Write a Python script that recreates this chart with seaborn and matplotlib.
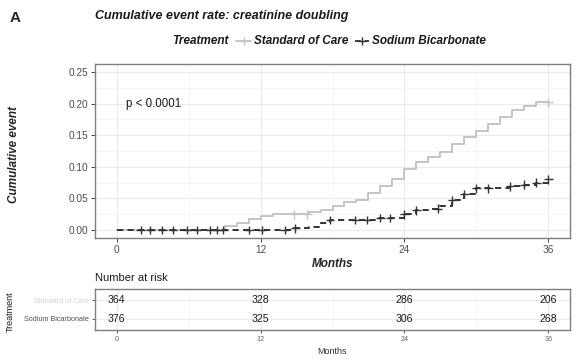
import numpy as np
import pandas as pd
import matplotlib
matplotlib.use("Agg")
import matplotlib.pyplot as plt
from matplotlib.lines import Line2D
import seaborn as sns

# ---------------- data ----------------
groups = ["Standard of Care", "Sodium Bicarbonate"]

soc_time = [0, 9, 10, 11, 12, 13, 16, 17, 18, 19, 20, 21, 22, 23, 24, 25, 26,
            27, 28, 29, 30, 31, 32, 33, 34, 35, 36]
soc_cum = [0.0, 0.006, 0.0115, 0.017, 0.022, 0.025, 0.028, 0.031, 0.038, 0.044,
           0.048, 0.058, 0.069, 0.081, 0.097, 0.108, 0.116, 0.124, 0.136, 0.147,
           0.157, 0.168, 0.179, 0.190, 0.196, 0.202, 0.202]

sb_time = [0, 14.8, 16, 17, 17.8, 21.9, 24, 25, 26, 27, 28, 29, 30, 32.8,
           33.8, 35, 36]
sb_cum = [0.0, 0.003, 0.005, 0.011, 0.016, 0.019, 0.025, 0.031, 0.034, 0.038,
          0.047, 0.057, 0.066, 0.069, 0.072, 0.075, 0.080]

soc_censor = [14.8, 15.9, 36]
sb_censor = [2.0, 2.8, 3.8, 4.7, 5.9, 6.7, 7.8, 8.4, 8.9, 11.0, 12.1, 14.0,
             14.9, 17.8, 19.9, 20.9, 22.0, 22.8, 24.0, 25.0, 26.8, 28.0, 29.0,
             30.0, 31.0, 32.8, 34.0, 35.0, 36.0]

risk_times = [0, 12, 24, 36]
risk_soc = [364, 328, 286, 206]
risk_sb = [376, 325, 306, 268]

x_ticks = [0, 12, 24, 36]
y_ticks = [0.00, 0.05, 0.10, 0.15, 0.20, 0.25]

# ---------------- frames ----------------
curve = pd.concat([
    pd.DataFrame({"time": soc_time, "cum": soc_cum, "Treatment": groups[0]}),
    pd.DataFrame({"time": sb_time, "cum": sb_cum, "Treatment": groups[1]}),
], ignore_index=True)


def step_value(times, cums, t):
    idx = np.searchsorted(times, t, side="right") - 1
    return np.asarray(cums)[idx]


cens = pd.concat([
    pd.DataFrame({"time": soc_censor,
                  "cum": step_value(soc_time, soc_cum, soc_censor),
                  "Treatment": groups[0]}),
    pd.DataFrame({"time": sb_censor,
                  "cum": step_value(sb_time, sb_cum, sb_censor),
                  "Treatment": groups[1]}),
], ignore_index=True)

# ---------------- style ----------------
sns.set_style("white")
plt.rcParams["font.family"] = ["Liberation Sans", "DejaVu Sans"]

colors = {groups[0]: "#c4c4c4", groups[1]: "#333333"}
W, H = 583, 362
fig = plt.figure(figsize=(W / 100, H / 100), dpi=100)


def fx(px):
    return px / W


def fy(py):
    return 1 - py / H


# main axes: left 95, right 570, top 64, bottom 238
ax = fig.add_axes([fx(95), fy(238), fx(570 - 95), (238 - 64) / H])
# table axes: top 289, bottom 330
axt = fig.add_axes([fx(95), fy(330), fx(570 - 95), (330 - 289) / H])

for a in (ax, axt):
    a.set_facecolor("white")
    for s in a.spines.values():
        s.set_color("#7f7f7f")
        s.set_linewidth(1.0)

# gridlines main
ax.set_xlim(-1.8, 37.8)
ax.set_ylim(-0.0125, 0.2625)
ax.set_xticks(x_ticks)
ax.set_yticks(y_ticks)
ax.set_xticks([6, 18, 30], minor=True)
ax.set_yticks([0.025, 0.075, 0.125, 0.175, 0.225], minor=True)
ax.grid(True, which="major", color="#ebebeb", lw=0.8)
ax.grid(True, which="minor", color="#f3f3f3", lw=0.5)
ax.set_axisbelow(True)

sns.lineplot(data=curve, x="time", y="cum", hue="Treatment", style="Treatment",
             palette=colors, dashes={groups[0]: "", groups[1]: (3.2, 2.2)},
             drawstyle="steps-post", estimator=None, lw=1.4, ax=ax,
             legend=False)
sns.scatterplot(data=cens, x="time", y="cum", hue="Treatment",
                palette=colors, marker="+", s=40, linewidth=1.0, ax=ax,
                legend=False, zorder=5)

ax.tick_params(axis="both", which="major", length=3, width=0.7,
               color="#444444", labelsize=7.3, labelcolor="#4d4d4d", pad=2,
               bottom=True, left=True)
ax.tick_params(which="minor", length=0)
ax.set_yticklabels([f"{v:.2f}" for v in y_ticks])
ax.set_xlabel("Months", fontsize=8.5, fontweight="bold", style="italic",
              labelpad=2)
ax.set_ylabel("Cumulative event", fontsize=8.5, fontweight="bold",
              style="italic")
ax.yaxis.set_label_coords((20 - 95) / 475, 0.48)
ax.text(0.75, 0.199, "p < 0.0001", fontsize=8.3, va="center", ha="left",
        color="#1a1a1a")

# ---------------- risk table ----------------
axt.set_xlim(-1.8, 37.8)
axt.set_ylim(0.4, 2.6)
axt.set_xticks(x_ticks)
axt.set_xticks([6, 18, 30], minor=True)
axt.set_yticks([1, 2])
axt.set_yticklabels([groups[1], groups[0]])
axt.grid(True, which="major", color="#ebebeb", lw=0.8)
axt.grid(True, which="minor", axis="x", color="#f3f3f3", lw=0.5)
axt.set_axisbelow(True)
for t, n in zip(risk_times, risk_soc):
    axt.text(t, 2, str(n), ha="center", va="center", fontsize=7.6,
             color="#1a1a1a")
for t, n in zip(risk_times, risk_sb):
    axt.text(t, 1, str(n), ha="center", va="center", fontsize=7.6,
             color="#1a1a1a")
axt.tick_params(axis="both", which="major", length=2.5, width=0.6,
                color="#444444", labelsize=5.2, labelcolor="#666666", pad=1.5,
                bottom=True, left=True)
axt.tick_params(which="minor", length=0)
ylabs = axt.get_yticklabels()
ylabs[0].set_color("#555555")
ylabs[1].set_color("#d2d2d2")
axt.set_xlabel("Months", fontsize=6.5, color="#333333", labelpad=3)
axt.set_ylabel("Treatment", fontsize=6.5, color="#1a1a1a")
axt.yaxis.set_label_coords((15 - 95) / 475, 0.45)
fig.text(fx(95), fy(278), "Number at risk", fontsize=8, va="center",
         ha="left", color="#1a1a1a")

# ---------------- titles & legend ----------------
fig.text(fx(10), fy(18), "A", fontsize=11, fontweight="bold", va="center",
         ha="left")
fig.text(fx(95), fy(16), "Cumulative event rate: creatinine doubling",
         fontsize=9, fontweight="bold", style="italic", va="center",
         ha="left", color="#1a1a1a")

ly = 41
fig.text(fx(172), fy(ly), "Treatment", fontsize=8.5, fontweight="bold",
         style="italic", va="center", ha="left", color="#1a1a1a")
fig.text(fx(254), fy(ly), groups[0], fontsize=8.5, fontweight="bold",
         style="italic", va="center", ha="left", color="#1a1a1a")
fig.text(fx(372), fy(ly), groups[1], fontsize=8.5, fontweight="bold",
         style="italic", va="center", ha="left", color="#1a1a1a")
for x0, x1, g, ls in [(236, 251, groups[0], "-"), (355, 369, groups[1], (0, (3.2, 2.2)))]:
    fig.add_artist(Line2D([fx(x0), fx(x1)], [fy(ly), fy(ly)], color=colors[g],
                          lw=1.3, linestyle=ls, transform=fig.transFigure))
    fig.add_artist(Line2D([fx((x0 + x1) / 2)], [fy(ly)], color=colors[g],
                          marker="+", markersize=6, mew=1.0, linestyle="none",
                          transform=fig.transFigure))

fig.savefig("out.png", dpi=100)
